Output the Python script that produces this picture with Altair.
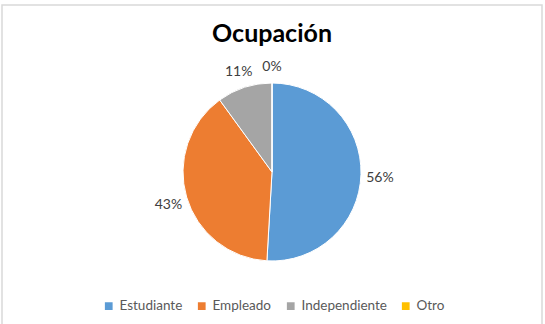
import altair as alt
import pandas as pd

categories = ["Estudiante", "Empleado", "Independiente", "Otro"]
values = [56, 43, 11, 0]
labels = ["56%", "43%", "11%", "0%"]
colors = ["#5B9BD5", "#ED7D31", "#A5A5A5", "#FFC000"]

df = pd.DataFrame({
    "cat": categories,
    "val": values,
    "lab": labels,
    "idx": list(range(len(categories))),
})

FONT = "Lato"
cx, cy = 270, 167

base = alt.Chart(df).encode(
    theta=alt.Theta("val:Q", stack=True),
    order=alt.Order("idx:Q", sort="ascending"),
)

pie = base.mark_arc(outerRadius=89, stroke="white", strokeWidth=1).encode(
    x=alt.value(cx),
    y=alt.value(cy),
    color=alt.Color(
        "cat:N",
        scale=alt.Scale(domain=categories, range=colors),
        sort=categories,
        legend=alt.Legend(
            title=None,
            orient="none",
            direction="horizontal",
            legendX=100,
            legendY=294,
            symbolType="square",
            symbolSize=60,
            symbolStrokeWidth=0,
            labelFont=FONT,
            labelFontSize=13.5,
            labelColor="#595959",
            labelOffset=4,
            columnPadding=12,
            symbolOffset=0,
        ),
    ),
)

text = base.mark_text(radius=108, font=FONT, fontSize=14, color="#404040", dy=3).encode(
    x=alt.value(cx),
    y=alt.value(cy),
    text="lab:N",
)

chart = (
    alt.layer(pie, text)
    .properties(
        width=540,
        height=320,
        padding={"left": 2, "top": 5, "right": 3, "bottom": 0},
        autosize=alt.AutoSizeParams(type="none"),
        title=alt.TitleParams(
            "Ocupación",
            font=FONT,
            fontSize=25,
            fontWeight="bold",
            color="#000000",
            anchor="middle",
            frame="group",
            dy=46,
        ),
    )
    .configure_view(stroke="#D9D9D9", strokeWidth=1.5)
)

chart.save("out.html", embed_options={"renderer": "svg", "actions": False})
